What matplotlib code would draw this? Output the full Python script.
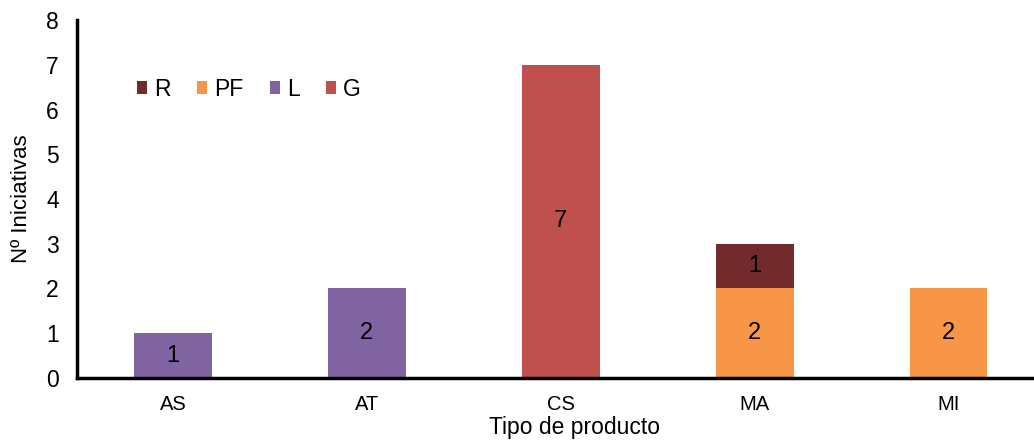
import numpy as np
import matplotlib.pyplot as plt

plt.rcParams['font.family'] = ['Liberation Sans', 'DejaVu Sans']

# product types and initiatives per group
categories = ['AS', 'AT', 'CS', 'MA', 'MI']
series = ['R', 'PF', 'L', 'G']
values = {
    'L': [1, 2, 0, 0, 0],
    'G': [0, 0, 7, 0, 0],
    'PF': [0, 0, 0, 2, 2],
    'R': [0, 0, 0, 1, 0],
}
colors = {'R': '#722A2D', 'PF': '#F79646', 'L': '#8064A2', 'G': '#C0504D'}
stack_order = ['L', 'G', 'PF', 'R']

fig = plt.figure(figsize=(10.34, 4.4), dpi=100)
ax = fig.add_axes([0.0745, 0.141, 0.9255, 0.8135])

x = np.arange(len(categories))
bottom = np.zeros(len(categories))
handles = {}
for name in stack_order:
    vals = np.array(values[name], dtype=float)
    bars = ax.bar(x, vals, 0.4, bottom=bottom, color=colors[name], label=name)
    handles[name] = bars
    for xi, v, b in zip(x, vals, bottom):
        if v > 0:
            ax.text(xi, b + v / 2, f'{int(v)}', ha='center', va='center',
                    fontsize=17, color='black')
    bottom += vals

ax.set_xlim(-0.495, 4.44)
ax.set_ylim(0, 8)
ax.set_yticks(range(0, 9))
ax.set_xticks(x)
ax.set_xticklabels(categories)
ax.tick_params(axis='y', labelsize=16.5, length=0, pad=13)
ax.tick_params(axis='x', labelsize=14.5, length=0, pad=12)

for side in ['top', 'right']:
    ax.spines[side].set_visible(False)
for side in ['left', 'bottom']:
    ax.spines[side].set_linewidth(2.5)
    ax.spines[side].set_color('black')

ax.set_ylabel('Nº Iniciativas', fontsize=16)
ax.set_xlabel('Tipo de producto', fontsize=16.5)
ax.xaxis.set_label_coords(0.52, -0.105)
ax.yaxis.set_label_coords(-0.047, 0.5)

ax.legend([handles[s] for s in series], series, ncol=4, frameon=False,
          fontsize=16.5, loc='upper left', bbox_to_anchor=(0.053, 0.865),
          handlelength=0.45, handleheight=0.45, handletextpad=0.3,
          columnspacing=1.15, borderaxespad=0)

fig.savefig('out.png', dpi=100)
